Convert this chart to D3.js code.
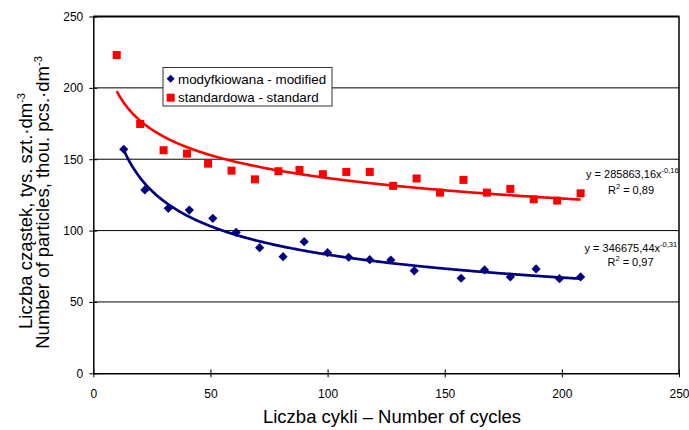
<!DOCTYPE html>
<html>
<head>
<meta charset="utf-8">
<script src="https://cdn.jsdelivr.net/npm/d3@7"></script>
<style>
  html, body { margin: 0; padding: 0; background: #fff; }
  svg { display: block; font-family: "Liberation Sans", Arial, sans-serif; }
</style>
</head>
<body>
<svg id="chart" width="689" height="430"></svg>
<script>
// ---- data ----
const seriesNames = ["modyfkiowana - modified", "standardowa - standard"];
const modifiedX = [13, 22, 32, 41, 51, 61, 71, 81, 90, 100, 109, 118, 127, 137, 157, 167, 178, 189, 199, 208];
const modifiedY = [157, 128.5, 115.6, 114.4, 108.6, 98.8, 88, 81.7, 92.2, 84.5, 81.3, 79.6, 79.4, 71.8, 66.6, 72.4, 67.5, 73.1, 66.3, 67.5];
const standardX = [10, 20, 30, 40, 49, 59, 69, 79, 88, 98, 108, 118, 128, 138, 148, 158, 168, 178, 188, 198, 208];
const standardY = [223, 174.7, 156.3, 153.9, 146.9, 142, 135.9, 141.6, 142.5, 139.5, 141.1, 141.1, 131.3, 136.5, 126.6, 135.5, 126.6, 129.2, 121.9, 121, 126.1];
// trendline y = a * x^b (a in thousands, as displayed / 1000)
const modifiedTrend = [346.67544, -0.31];
const standardTrend = [285.86316, -0.16];
const modifiedEq = ["y = 346675,44x", "-0,31", "R", "2", " = 0,97"];
const standardEq = ["y = 285863,16x", "-0,16", "R", "2", " = 0,89"];
const xTicks = [0, 50, 100, 150, 200, 250];
const yTicks = [0, 50, 100, 150, 200, 250];
const xTitle = "Liczba cykli \u2013 Number of cycles";
const yTitle1 = ["Liczba cząstek, tys. szt.\u00B7dm", "-3"];
const yTitle2 = ["Number of particles, thou. pcs.\u00B7dm", "-3"];

// ---- layout ----
const svg = d3.select("#chart");
const L = 93.3, R = 679, T = 16.5, B = 373.3;
const x = d3.scaleLinear().domain([0, 250]).range([L, R]);
const y = d3.scaleLinear().domain([0, 250]).range([B, T]);
const RED = "#FF0000", NAVY = "#000080";

// gridlines
svg.append("g").selectAll("line").data(yTicks.filter(v => v > 0 && v < 250)).join("line")
  .attr("x1", L).attr("x2", R).attr("y1", d => y(d)).attr("y2", d => y(d))
  .attr("stroke", "#000").attr("stroke-width", 1);

// frame top and right
svg.append("line").attr("x1", L).attr("x2", R + 0.5).attr("y1", T).attr("y2", T)
  .attr("stroke", "#000").attr("stroke-width", 2);
svg.append("line").attr("x1", R).attr("x2", R).attr("y1", T).attr("y2", B)
  .attr("stroke", "#000").attr("stroke-width", 1.5);

// axes
const xAxis = d3.axisBottom(x).tickValues(xTicks).tickSize(4).tickSizeOuter(0).tickPadding(12);
const gx = svg.append("g").attr("transform", `translate(0,${B})`).call(xAxis);
gx.select(".domain").attr("stroke", "#000").attr("stroke-width", 1.5);
gx.selectAll(".tick line").attr("y1", -4).attr("stroke", "#000");
gx.selectAll(".tick text").attr("font-size", 12).attr("fill", "#000")
  .attr("font-family", "Liberation Sans, Arial, sans-serif");

const yAxis = d3.axisLeft(y).tickValues(yTicks).tickSize(4).tickSizeOuter(0).tickPadding(6);
const gy = svg.append("g").attr("transform", `translate(${L},0)`).call(yAxis);
gy.select(".domain").attr("stroke", "#000").attr("stroke-width", 1.5);
gy.selectAll(".tick line").attr("x1", 4).attr("x2", -4).attr("stroke", "#000");
gy.selectAll(".tick text").attr("font-size", 12).attr("fill", "#000")
  .attr("font-family", "Liberation Sans, Arial, sans-serif");

// trendlines
function trend(xs, coef) {
  const x0 = d3.min(xs), x1 = d3.max(xs);
  const pts = d3.range(x0, x1, 0.5).concat([x1]);
  return pts.map(v => [v, coef[0] * Math.pow(v, coef[1])]);
}
const line = d3.line().x(d => x(d[0])).y(d => y(d[1])).curve(d3.curveLinear);
svg.append("path").attr("d", line(trend(standardX, standardTrend)))
  .attr("fill", "none").attr("stroke", RED).attr("stroke-width", 2.6);
svg.append("path").attr("d", line(trend(modifiedX, modifiedTrend)))
  .attr("fill", "none").attr("stroke", NAVY).attr("stroke-width", 2.7);

// markers
const sq = 8;
svg.append("g").selectAll("rect").data(d3.zip(standardX, standardY)).join("rect")
  .attr("x", d => x(d[0]) - sq / 2).attr("y", d => y(d[1]) - sq / 2)
  .attr("width", sq).attr("height", sq).attr("fill", RED);
const dia = 4.6;
function diamond(cx, cy, r) {
  return `M${cx},${cy - r}L${cx + r},${cy}L${cx},${cy + r}L${cx - r},${cy}Z`;
}
svg.append("g").selectAll("path").data(d3.zip(modifiedX, modifiedY)).join("path")
  .attr("d", d => diamond(x(d[0]), y(d[1]), dia)).attr("fill", NAVY);

// legend
const lg = svg.append("g");
lg.append("rect").attr("x", 163).attr("y", 67.5).attr("width", 169).attr("height", 38.5)
  .attr("fill", "#fff").attr("stroke", "#333").attr("stroke-width", 1);
lg.append("path").attr("d", diamond(170.7, 78.7, 4)).attr("fill", NAVY);
lg.append("rect").attr("x", 166.7).attr("y", 93.7).attr("width", 8).attr("height", 8).attr("fill", RED);
lg.append("text").attr("x", 178).attr("y", 83.5).attr("font-size", 13.4).text(seriesNames[0]);
lg.append("text").attr("x", 178).attr("y", 102).attr("font-size", 13.4).text(seriesNames[1]);

// equations
function equation(eq, x0, yb, rx, ryb) {
  const t = svg.append("text").attr("x", x0).attr("y", yb).attr("font-size", 11).attr("fill", "#000");
  t.append("tspan").text(eq[0]);
  t.append("tspan").attr("dy", -5).attr("font-size", 7.5).text(eq[1]);
  const r = svg.append("text").attr("x", rx).attr("y", ryb).attr("font-size", 11)
    .attr("text-anchor", "middle").attr("fill", "#000");
  r.append("tspan").text(eq[2]);
  r.append("tspan").attr("dy", -5).attr("font-size", 7.5).text(eq[3]);
  r.append("tspan").attr("dy", 5).text(eq[4]);
}
equation(standardEq, 586, 178, 631, 194);
equation(modifiedEq, 584.5, 251.7, 630.5, 266);

// axis titles
svg.append("text").attr("x", 392).attr("y", 423).attr("text-anchor", "middle")
  .attr("font-size", 18.5).text(xTitle);
function yTitle(parts, bx, cy) {
  const t = svg.append("text").attr("transform", `translate(${bx},${cy}) rotate(-90)`)
    .attr("text-anchor", "middle").attr("font-size", 18.5);
  t.append("tspan").text(parts[0]);
  t.append("tspan").attr("dy", -7).attr("font-size", 11).text(parts[1]);
}
yTitle(yTitle1, 32, 211);
yTitle(yTitle2, 48.5, 202.5);
</script>
</body>
</html>
